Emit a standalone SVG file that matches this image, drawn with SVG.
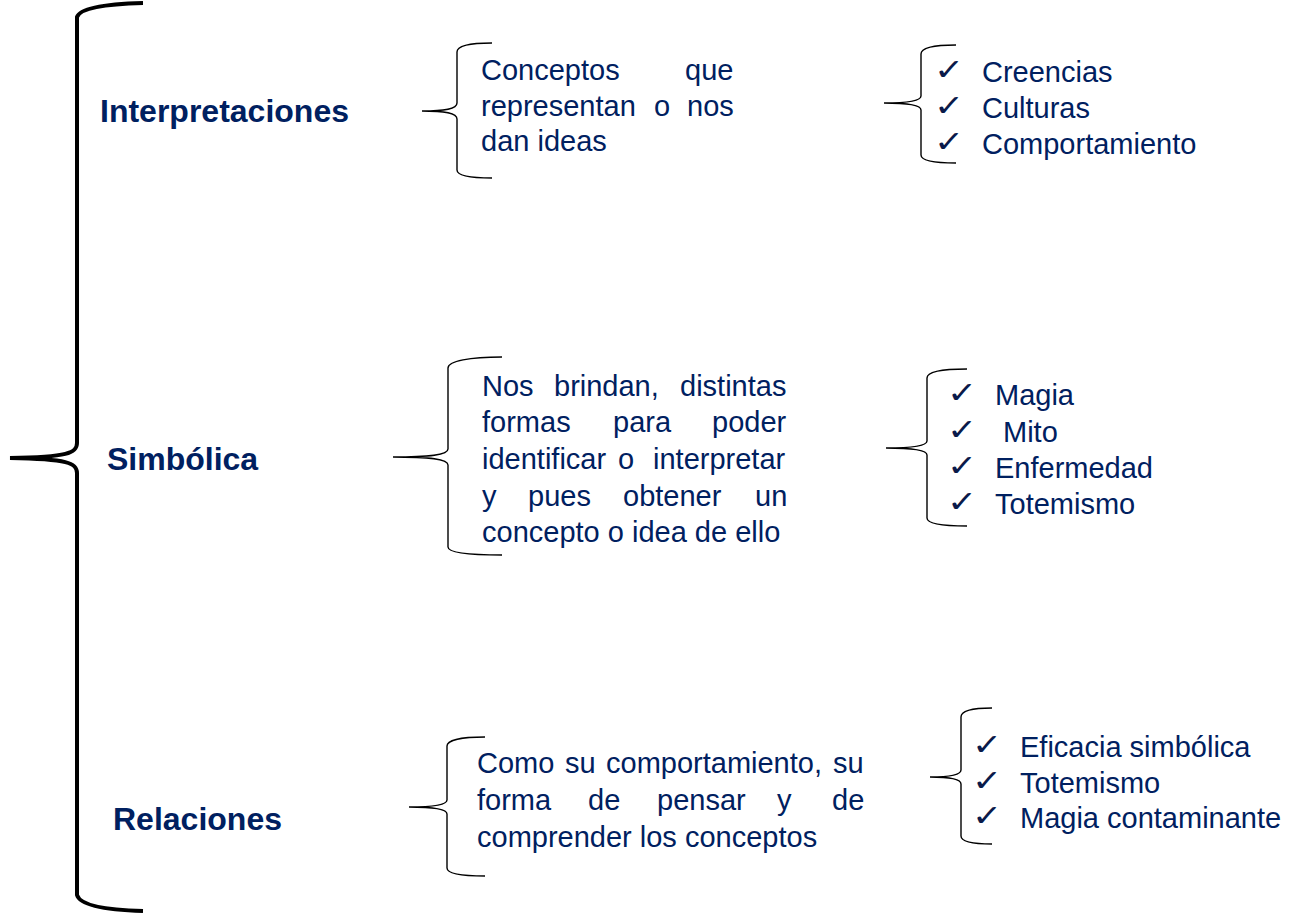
<svg xmlns="http://www.w3.org/2000/svg" width="1289" height="914" viewBox="0 0 1289 914">
<style>
.b{fill:none;stroke:#000;stroke-width:1.4}
.big{fill:none;stroke:#000;stroke-width:4}
.h{font-family:"Liberation Sans",Arial,sans-serif;font-weight:bold;font-size:32px;fill:#002060}
.t{font-family:"Liberation Sans",Arial,sans-serif;font-size:29px;fill:#002060}
.ck{font-family:"DejaVu Sans",sans-serif;font-size:30px;fill:#0a1a4a}
</style>
<rect width="1289" height="914" fill="#fff"/>
<g id="connectors">
<path class="big" d="M143,3 C105,4 80,8 77,17 L77,443 C77,453 68,457 10,458 C68,459 77,463 77,473 L77,895 C80,905 105,910 143,911"/>
<path class="b" d="M492,43 C470,43 457,46 457,52 L457,103 C457,109 445,111 422,111 C445,111 457,113 457,119 L457,170 C457,176 470,178 492,178"/>
<path class="b" d="M956,45 C934,45 921,48 921,54 L921,96 C921,101 909,103 884,103 C909,103 921,105 921,110 L921,155 C921,161 934,163 956,163"/>
<path class="b" d="M502,357 C470,357 448,361 448,368 L448,449 C448,455 430,457 393,457 C430,457 448,459 448,465 L448,547 C448,553 470,555 502,555"/>
<path class="b" d="M967,369 C942,369 927,372 927,378 L927,441 C927,446 912,448 886,448 C912,448 927,450 927,455 L927,518 C927,524 942,526 967,526"/>
<path class="b" d="M485,737 C462,737 447,740 447,746 L447,800 C447,805 433,807 409,807 C433,807 447,809 447,814 L447,868 C447,874 462,876 485,876"/>
<path class="b" d="M992,708 C973,708 961,711 961,717 L961,770 C961,775 950,777 930,777 C950,777 961,779 961,784 L961,836 C961,842 973,844 992,844"/>
</g>
<g id="interpretaciones"><text class="h" x="100" y="122">Interpretaciones</text></g>
<g id="simbolica"><text class="h" x="107" y="470">Simbólica</text></g>
<g id="relaciones"><text class="h" x="113" y="830">Relaciones</text></g>
<g id="desc1">
<text class="t" x="481" y="80">Conceptos</text><text class="t" x="685" y="80">que</text>
<text class="t" x="481" y="116">representan</text><text class="t" x="654" y="116">o</text><text class="t" x="687" y="116">nos</text>
<text class="t" x="481" y="151">dan ideas</text>
</g>
<g id="desc2">
<text class="t" x="482" y="396">Nos</text><text class="t" x="554" y="396">brindan,</text><text class="t" x="680" y="396">distintas</text>
<text class="t" x="482" y="432">formas</text><text class="t" x="613" y="432">para</text><text class="t" x="712" y="432">poder</text>
<text class="t" x="482" y="469">identificar</text><text class="t" x="618" y="469">o</text><text class="t" x="653" y="469">interpretar</text>
<text class="t" x="482" y="506">y</text><text class="t" x="528" y="506">pues</text><text class="t" x="623" y="506">obtener</text><text class="t" x="755" y="506">un</text>
<text class="t" x="482" y="542">concepto o idea de ello</text>
</g>
<g id="desc3">
<text class="t" x="477" y="773">Como</text><text class="t" x="565" y="773">su</text><text class="t" x="606" y="773">comportamiento,</text><text class="t" x="833" y="773">su</text>
<text class="t" x="477" y="810">forma</text><text class="t" x="588" y="810">de</text><text class="t" x="657" y="810">pensar</text><text class="t" x="777" y="810">y</text><text class="t" x="832" y="810">de</text>
<text class="t" x="477" y="847">comprender los conceptos</text>
</g>
<g id="list1">
<text class="ck" transform="translate(934,80) scale(1.2,1)">✓</text><text class="t" x="982" y="82">Creencias</text>
<text class="ck" transform="translate(934,116) scale(1.2,1)">✓</text><text class="t" x="982" y="118">Culturas</text>
<text class="ck" transform="translate(934,152) scale(1.2,1)">✓</text><text class="t" x="982" y="154">Comportamiento</text>
</g>
<g id="list2">
<text class="ck" transform="translate(947,403) scale(1.2,1)">✓</text><text class="t" x="995" y="405">Magia</text>
<text class="ck" transform="translate(947,440) scale(1.2,1)">✓</text><text class="t" x="1003" y="442">Mito</text>
<text class="ck" transform="translate(947,476) scale(1.2,1)">✓</text><text class="t" x="995" y="478">Enfermedad</text>
<text class="ck" transform="translate(947,512) scale(1.2,1)">✓</text><text class="t" x="995" y="514">Totemismo</text>
</g>
<g id="list3">
<text class="ck" transform="translate(972,755) scale(1.2,1)">✓</text><text class="t" x="1020" y="757">Eficacia simbólica</text>
<text class="ck" transform="translate(972,791) scale(1.2,1)">✓</text><text class="t" x="1020" y="793">Totemismo</text>
<text class="ck" transform="translate(972,826) scale(1.2,1)">✓</text><text class="t" x="1020" y="828">Magia contaminante</text>
</g>
</svg>
